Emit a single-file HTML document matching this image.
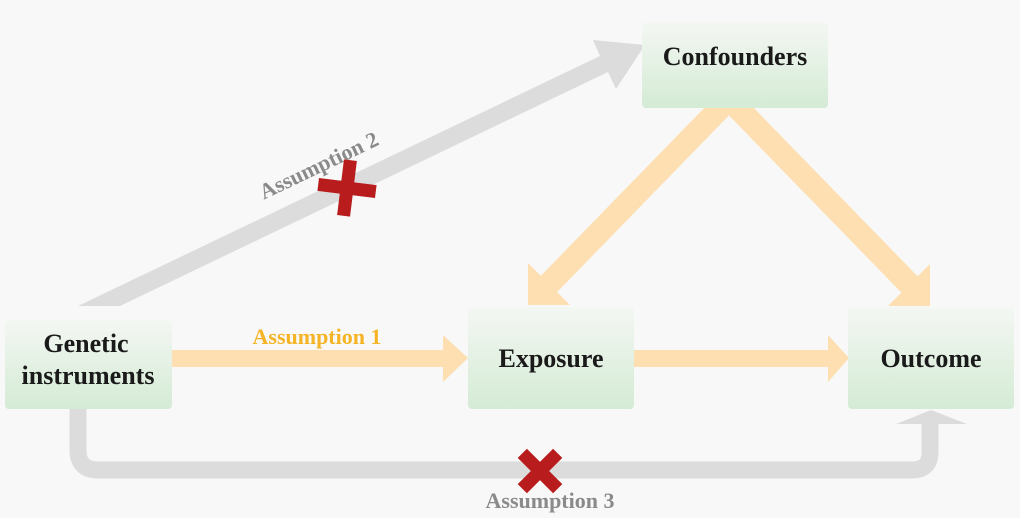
<!DOCTYPE html>
<html><head><meta charset="utf-8"><style>
html,body{margin:0;padding:0;background:#f8f8f8;}
svg{display:block;}
text{font-family:"Liberation Serif",serif;font-weight:bold;}
</style></head><body>
<svg width="1020" height="518" viewBox="0 0 1020 518" xmlns="http://www.w3.org/2000/svg">
<defs>
<linearGradient id="g" x1="0" y1="0" x2="0" y2="1">
<stop offset="0" stop-color="#f4f7f3"/><stop offset="1" stop-color="#d4ebd5"/>
</linearGradient>
</defs>
<rect width="1020" height="518" fill="#f8f8f8"/>
<polygon points="78,306 120,306 608,72 616,89 645,45 593,40 600,56" fill="#dcdcdc"/>
<path d="M78,409 L78,450 Q78,470 98,470 L912,470 Q930,470 930,452 L930,420" fill="none" stroke="#dcdcdc" stroke-width="17"/>
<polygon points="896,424 931,410 967,424" fill="#dcdcdc"/>
<rect x="172" y="350" width="272" height="17" fill="#fddfb1"/>
<polygon points="443,335 468,358 443,382" fill="#fddfb1"/>
<rect x="634" y="350" width="195" height="17" fill="#fddfb1"/>
<polygon points="828,335 849,358 828,382" fill="#fddfb1"/>
<line x1="728" y1="100" x2="546" y2="287" stroke="#fddfb1" stroke-width="23"/>
<polygon points="528,305 528,263 570,305" fill="#fddfb1"/>
<line x1="730" y1="100" x2="912" y2="287" stroke="#fddfb1" stroke-width="23"/>
<polygon points="930,306 930,264 888,306" fill="#fddfb1"/>
<rect x="642" y="22" width="186" height="86" rx="4" fill="url(#g)"/>
<rect x="5" y="320" width="167" height="89" rx="4" fill="url(#g)"/>
<rect x="468" y="307" width="166" height="102" rx="4" fill="url(#g)"/>
<rect x="848" y="307" width="166" height="102" rx="4" fill="url(#g)"/>
<text x="735" y="65" font-size="26" text-anchor="middle" fill="#1a1a1a">Confounders</text>
<text x="86" y="352" font-size="26" text-anchor="middle" fill="#1a1a1a">Genetic</text>
<text x="88" y="384" font-size="26" text-anchor="middle" fill="#1a1a1a">instruments</text>
<text x="551" y="367" font-size="26" text-anchor="middle" fill="#1a1a1a">Exposure</text>
<text x="931" y="367" font-size="26" text-anchor="middle" fill="#1a1a1a">Outcome</text>
<text x="317" y="344" font-size="22" text-anchor="middle" fill="#f5b425">Assumption 1</text>
<text x="0" y="0" font-size="22" text-anchor="middle" fill="#8a8a8a" transform="translate(322,172) rotate(-25.5)">Assumption 2</text>
<text x="550" y="508" font-size="22" text-anchor="middle" fill="#8a8a8a">Assumption 3</text>
<g transform="translate(347,188) rotate(7)" fill="#b81c1c">
<rect x="-29" y="-6.5" width="58" height="13"/>
<rect x="-6.5" y="-28" width="13" height="56"/>
</g>
<g transform="translate(540,471) rotate(45)" fill="#b81c1c">
<rect x="-25" y="-6.5" width="50" height="13"/>
<rect x="-6.5" y="-25" width="13" height="50"/>
</g>
</svg>
</body></html>
